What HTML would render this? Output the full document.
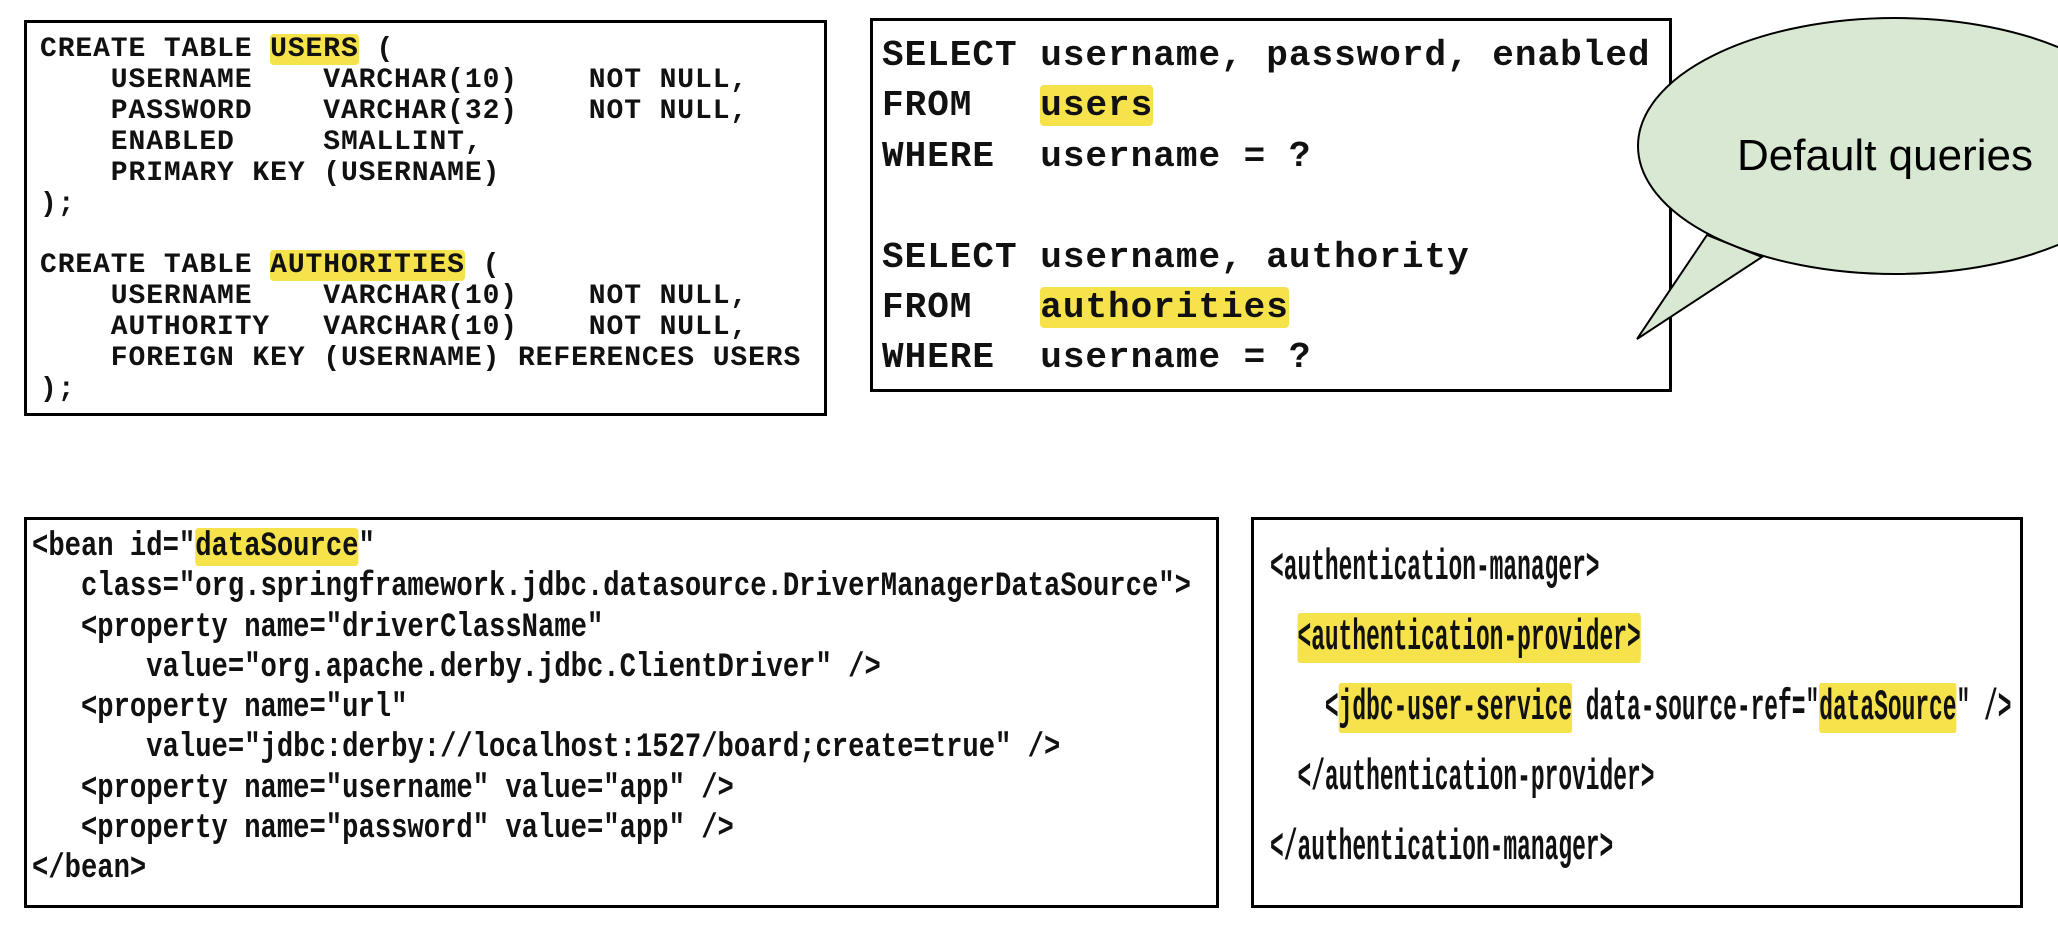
<!DOCTYPE html>
<html><head><meta charset="utf-8"><style>
body{margin:0;width:2058px;height:930px;background:#fff;position:relative;overflow:hidden}
.box{position:absolute;border:3px solid #000;box-sizing:border-box;background:#fff}
pre{margin:0;position:absolute;font-family:"Liberation Mono",monospace;font-weight:bold;color:#111;white-space:pre}
.h{background:#f6e24a;border-radius:4px}
</style></head><body>
<div class="box" style="left:24px;top:20px;width:803px;height:396px"></div>
<pre style="left:40px;top:35px;font-size:28px;letter-spacing:0.9px;line-height:30.9px">CREATE TABLE <span class="h">USERS</span> (
    USERNAME    VARCHAR(10)    NOT NULL,
    PASSWORD    VARCHAR(32)    NOT NULL,
    ENABLED     SMALLINT,
    PRIMARY KEY (USERNAME)
);

CREATE TABLE <span class="h">AUTHORITIES</span> (
    USERNAME    VARCHAR(10)    NOT NULL,
    AUTHORITY   VARCHAR(10)    NOT NULL,
    FOREIGN KEY (USERNAME) REFERENCES USERS
);</pre>

<div class="box" style="left:870px;top:18px;width:802px;height:374px"></div>
<pre style="left:882px;top:31px;font-size:36px;letter-spacing:1px;line-height:50.4px">SELECT username, password, enabled
FROM   <span class="h">users</span>
WHERE  username = ?

SELECT username, authority
FROM   <span class="h">authorities</span>
WHERE  username = ?</pre>

<svg style="position:absolute;left:0;top:0" width="2058" height="930">
<ellipse cx="1895" cy="146" rx="257" ry="128" fill="#d9e8d2" stroke="#000" stroke-width="2"/>
<polygon points="1707,235 1637,339 1762,257" fill="#d9e8d2" stroke="#000" stroke-width="2" stroke-linejoin="miter"/>
<ellipse cx="1895" cy="146" rx="255.5" ry="126.5" fill="#d9e8d2"/>
<text x="1737" y="170" font-family="Liberation Sans, sans-serif" font-size="44" fill="#000">Default queries</text>
</svg>

<div class="box" style="left:24px;top:517px;width:1195px;height:391px"></div>
<pre style="left:32px;top:527px;font-size:34px;line-height:40.3px;transform:scaleX(0.8);transform-origin:left top">&lt;bean id="<span class="h">dataSource</span>"
   class="org.springframework.jdbc.datasource.DriverManagerDataSource"&gt;
   &lt;property name="driverClassName"
       value="org.apache.derby.jdbc.ClientDriver" /&gt;
   &lt;property name="url"
       value="jdbc:derby://localhost:1527/board;create=true" /&gt;
   &lt;property name="username" value="app" /&gt;
   &lt;property name="password" value="app" /&gt;
&lt;/bean&gt;</pre>

<div class="box" style="left:1251px;top:517px;width:772px;height:391px"></div>
<pre style="left:1270px;top:533px;font-size:44px;line-height:70px;transform:scaleX(0.52);transform-origin:left top">&lt;authentication-manager&gt;
  <span class="h">&lt;authentication-provider&gt;</span>
    &lt;<span class="h">jdbc-user-service</span> data-source-ref="<span class="h">dataSource</span>" /&gt;
  &lt;/authentication-provider&gt;
&lt;/authentication-manager&gt;</pre>
</body></html>
